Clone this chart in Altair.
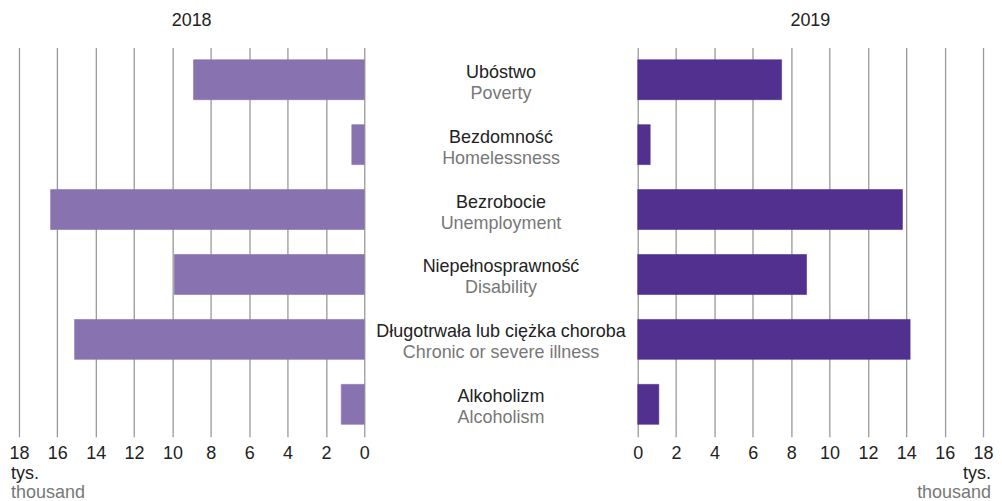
import altair as alt
import pandas as pd

cats_pl = ["Ubóstwo", "Bezdomność", "Bezrobocie", "Niepełnosprawność",
           "Długotrwała lub ciężka choroba", "Alkoholizm"]
cats_en = ["Poverty", "Homelessness", "Unemployment", "Disability",
           "Chronic or severe illness", "Alcoholism"]
v2018 = [8.9, 0.65, 16.35, 9.9, 15.1, 1.2]
v2019 = [7.5, 0.65, 13.8, 8.8, 14.2, 1.1]
tick_values = [0, 2, 4, 6, 8, 10, 12, 14, 16, 18]
years = ["2018", "2019"]
unit_pl = "tys."
unit_en = "thousand"

df = pd.DataFrame({"pl": cats_pl, "en": cats_en, "y2018": v2018, "y2019": v2019})
unit_df = pd.DataFrame({"pl": [unit_pl], "en": [unit_en]})

W, H, MW = 346, 390, 274
FONT = "Liberation Sans"
C18, C19 = "#8872b0", "#51308f"
GRID = "#999999"
FS = 18

yenc = alt.Y("pl:N", sort=cats_pl, axis=None,
             scale=alt.Scale(paddingInner=0.385, paddingOuter=0.19))


def xaxis():
    return alt.Axis(values=tick_values, grid=True, gridColor=GRID, gridWidth=1.3,
                    domain=False, ticks=False, tickSize=0, labelPadding=8,
                    labelFontSize=FS, labelColor="#222", labelFont=FONT,
                    labelFlush=False, title=None, labelOverlap=False)


def panel(field, color, reverse, title, unit_x, unit_align):
    bars = alt.Chart(df).mark_bar(color=color, stroke=color, strokeOpacity=0.6,
                                  strokeWidth=1).encode(
        x=alt.X(f"{field}:Q", axis=xaxis(),
                scale=alt.Scale(domain=[0, 18], reverse=reverse, nice=False)),
        y=yenc,
    )
    t1 = alt.Chart(unit_df).mark_text(align=unit_align, baseline="alphabetic",
                                      fontSize=FS, font=FONT, color="#222").encode(
        x=alt.value(unit_x), y=alt.value(H + 42), text="pl:N")
    t2 = alt.Chart(unit_df).mark_text(align=unit_align, baseline="alphabetic",
                                      fontSize=FS, font=FONT, color="#777777").encode(
        x=alt.value(unit_x), y=alt.value(H + 61), text="en:N")
    return alt.layer(bars, t1, t2).properties(
        width=W, height=H,
        title=alt.TitleParams(title, fontSize=FS, fontWeight="normal", font=FONT,
                              color="#222", anchor="middle", offset=17))


left = panel("y2018", C18, True, years[0], -8, "left")
right = panel("y2019", C19, False, years[1], W + 8, "right")

mid_pl = alt.Chart(df).mark_text(fontSize=FS, font=FONT, color="#222", dy=-7).encode(
    y=yenc, x=alt.value(MW / 2), text="pl:N")
mid_en = alt.Chart(df).mark_text(fontSize=FS, font=FONT, color="#777777", dy=14).encode(
    y=yenc, x=alt.value(MW / 2), text="en:N")
middle = alt.layer(mid_pl, mid_en).properties(width=MW, height=H)

chart = alt.hconcat(left, middle, right, spacing=0, bounds="flush").properties(
    padding={"left": 0, "top": 4, "right": 0, "bottom": 0}
).configure_view(stroke=None)

chart.save("out.html", embed_options={"renderer": "svg", "actions": False})
